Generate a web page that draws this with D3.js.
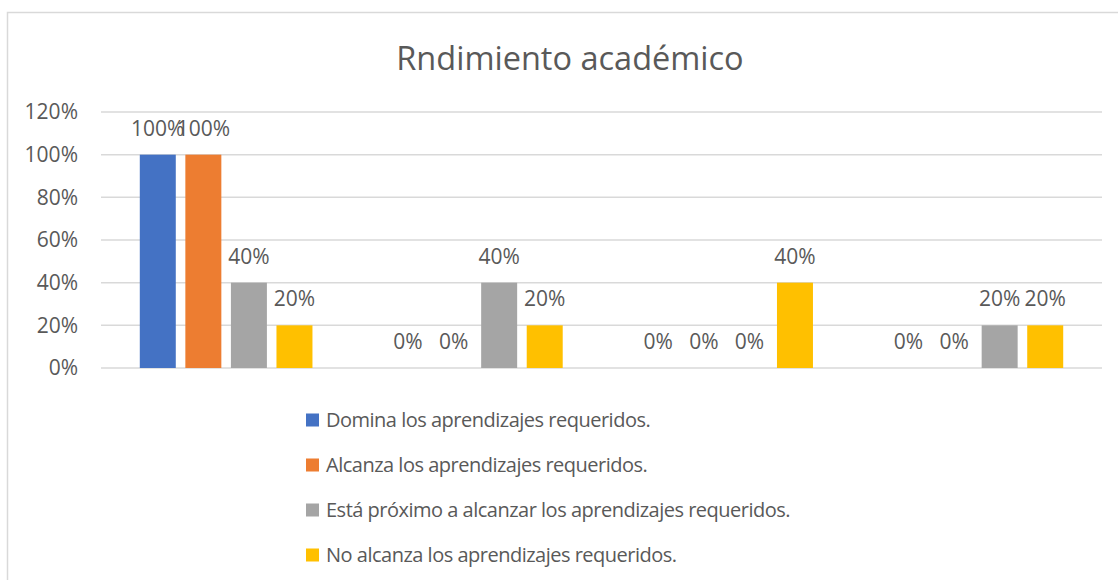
<!doctype html>
<meta charset="utf-8" />
<style>
    body {
        margin: 0;
        background: #fff;
    }
    text {
        font-family: "Open Sans", Lato, sans-serif;
        fill: #595959;
    }
</style>
<svg></svg>

<script src="https://cdn.jsdelivr.net/npm/d3@7"></script>
<script>
    var categories = ['G1', 'G2', 'G3', 'G4'];
    var series = [
        'Domina los aprendizajes requeridos.',
        'Alcanza los aprendizajes requeridos.',
        'Está próximo a alcanzar los aprendizajes requeridos.',
        'No alcanza los aprendizajes requeridos.'
    ];
    var colors = ['#4472C4', '#ED7D31', '#A5A5A5', '#FFC000'];
    // values per series, one per category
    var domina = [1.0, 0, 0, 0];
    var alcanza = [1.0, 0, 0, 0];
    var proximo = [0.4, 0.4, 0, 0.2];
    var noAlcanza = [0.2, 0.2, 0.4, 0.2];
    var yTicks = [0, 0.2, 0.4, 0.6, 0.8, 1.0, 1.2];

    var values = [domina, alcanza, proximo, noAlcanza];

    var svg = d3.select('svg')
        .attr('width', 1118)
        .attr('height', 580);

    // outer frame
    svg.append('rect')
        .attr('x', 7.5)
        .attr('y', 12.5)
        .attr('width', 1120)
        .attr('height', 600)
        .style('fill', 'none')
        .style('stroke', '#d9d9d9')
        .style('stroke-width', 1.5);

    svg.append('text')
        .attr('x', 570)
        .attr('y', 70)
        .attr('text-anchor', 'middle')
        .style('font-size', '32.5px')
        .text('Rndimiento académico');

    var x0 = d3.scaleBand()
        .domain(categories)
        .range([101, 1102])
        .paddingInner(0.31)
        .paddingOuter(0.155);

    var x1 = d3.scaleBand()
        .domain(d3.range(series.length))
        .range([0, x0.bandwidth()])
        .paddingInner(0.21);

    var y = d3.scaleLinear()
        .domain([0, 1.2])
        .range([368, 112]);

    // gridlines
    svg.append('g')
        .selectAll('line')
        .data(yTicks)
        .join('line')
        .attr('x1', 101)
        .attr('x2', 1102)
        .attr('y1', d => y(d))
        .attr('y2', d => y(d))
        .style('stroke', '#d9d9d9')
        .style('stroke-width', 1.5);

    var yAxis = svg.append('g')
        .attr('transform', 'translate(88,0)')
        .call(d3.axisLeft(y).tickValues(yTicks).tickFormat(d3.format('.0%')).tickSize(0).tickPadding(0));
    yAxis.select('.domain').remove();
    yAxis.selectAll('text')
        .style('font-size', '21px')
        .style('font-family', '"Open Sans", Lato, sans-serif')
        .attr('x', -10)
        .attr('fill', '#595959');

    var groups = svg.append('g')
        .selectAll('g')
        .data(categories)
        .join('g')
        .attr('transform', d => 'translate(' + x0(d) + ',0)');

    var cells = groups.selectAll('g')
        .data((c, ci) => series.map((s, si) => ({ si: si, v: values[si][ci] })))
        .join('g');

    cells.append('rect')
        .attr('x', d => x1(d.si))
        .attr('width', x1.bandwidth())
        .attr('y', d => y(d.v))
        .attr('height', d => y(0) - y(d.v))
        .style('fill', d => colors[d.si]);

    cells.append('text')
        .attr('x', d => x1(d.si) + x1.bandwidth() / 2)
        .attr('y', d => y(d.v) - 19)
        .attr('text-anchor', 'middle')
        .style('font-size', '21px')
        .text(d => d3.format('.0%')(d.v));

    // legend
    var legend = svg.append('g')
        .selectAll('g')
        .data(series)
        .join('g')
        .attr('transform', (d, i) => 'translate(306,' + (420 + i * 45) + ')');

    legend.append('rect')
        .attr('y', -6.5)
        .attr('width', 13)
        .attr('height', 13)
        .style('fill', (d, i) => colors[i]);

    legend.append('text')
        .attr('x', 20)
        .attr('dy', '0.35em')
        .style('font-size', '20px')
        .style('letter-spacing', '-0.5px')
        .text(d => d);
</script>
